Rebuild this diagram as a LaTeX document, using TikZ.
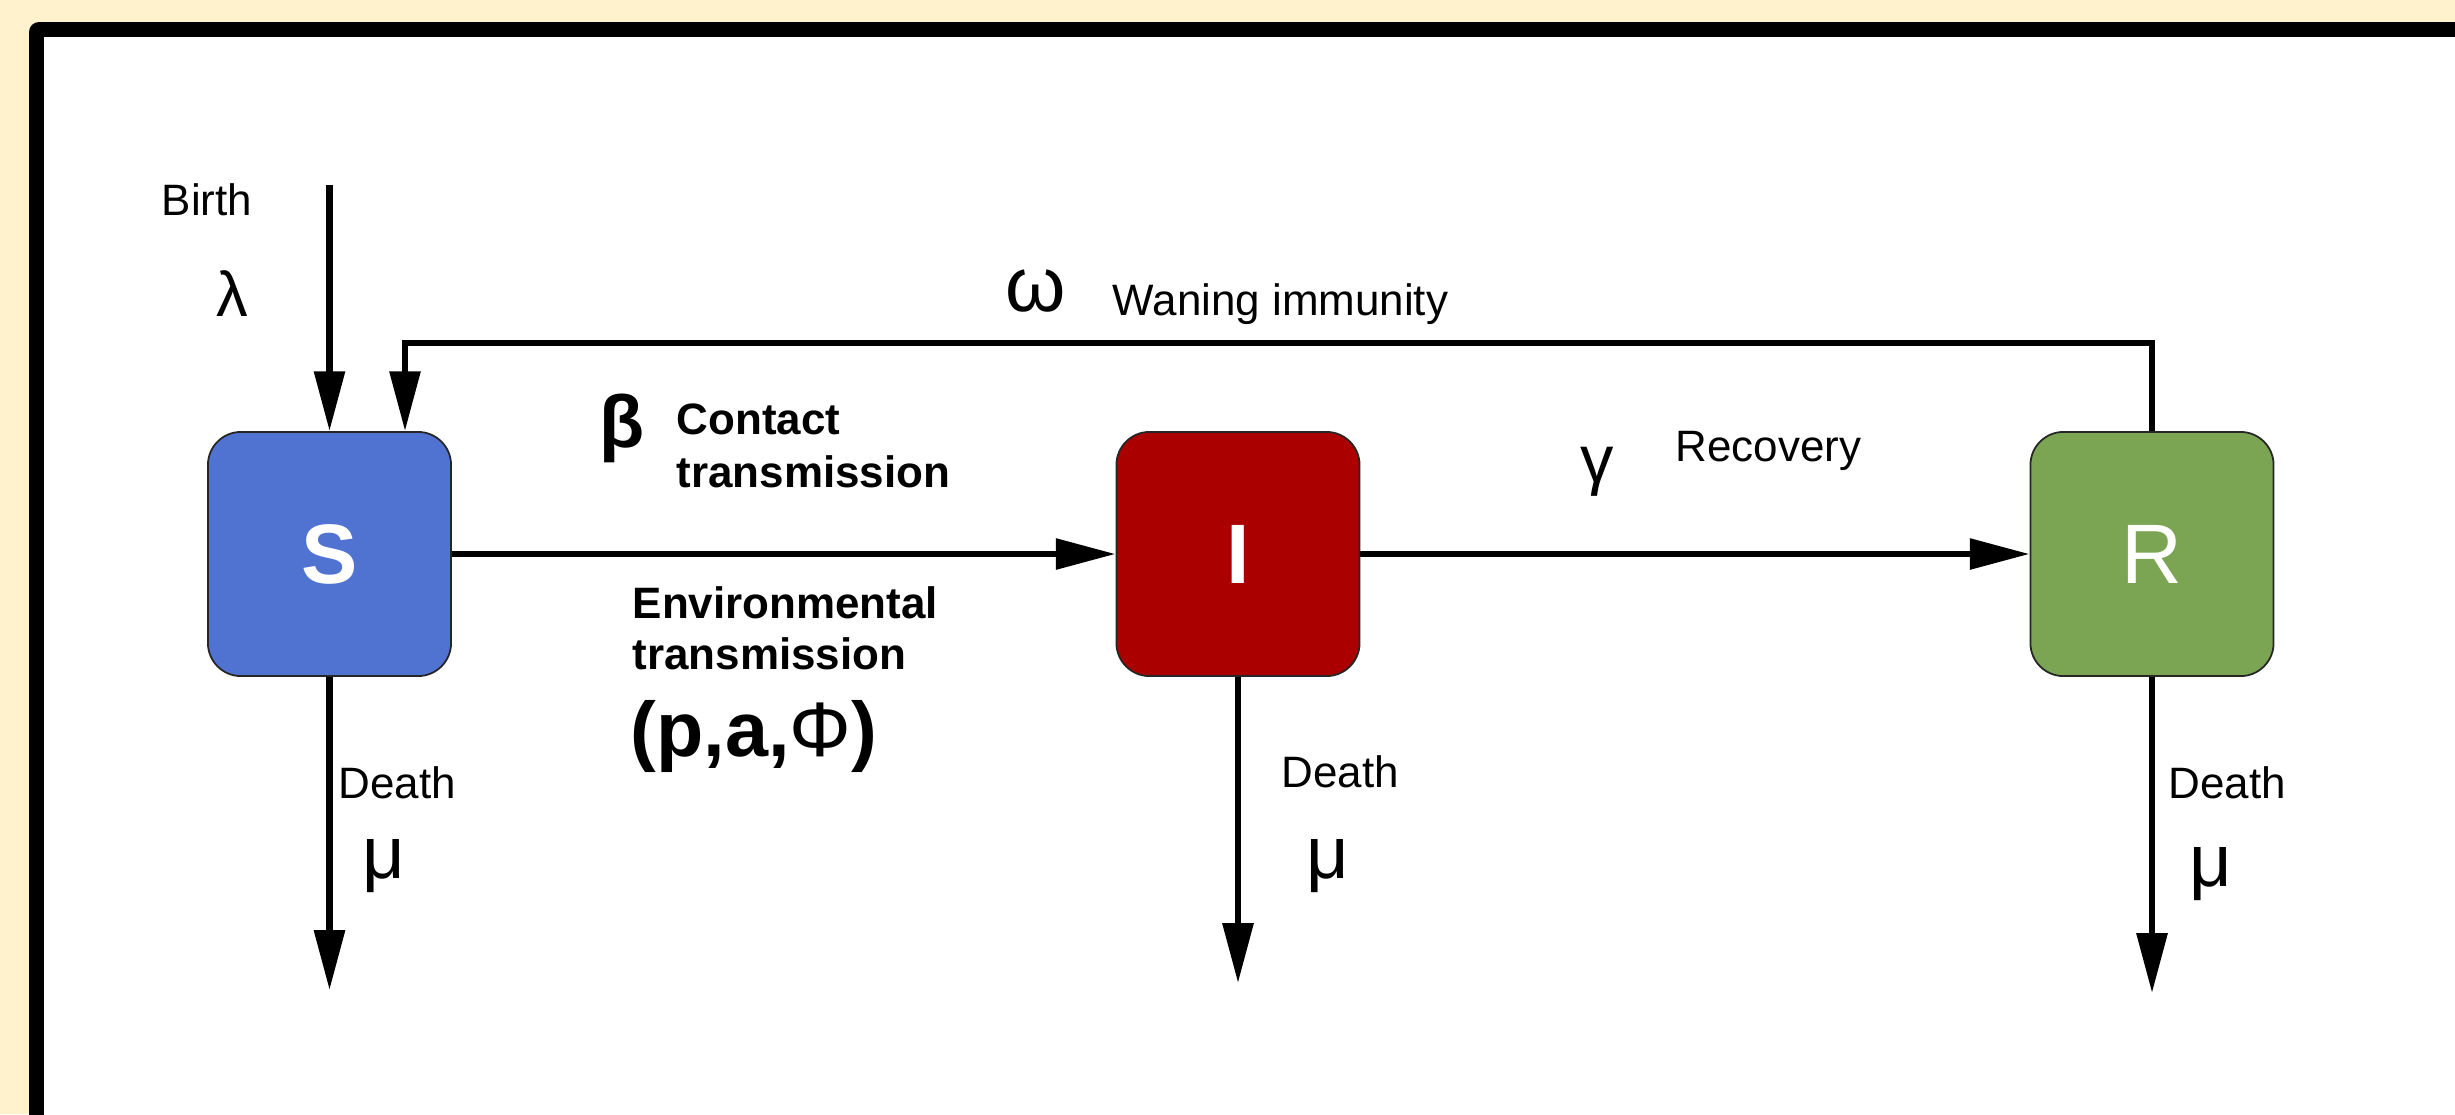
\documentclass[tikz,border=0pt]{standalone}
\usepackage{fontspec}
\setmainfont{Liberation Sans}
\usetikzlibrary{arrows.meta}
\definecolor{bgyellow}{HTML}{FFF2CC}
\definecolor{sblue}{HTML}{5072D1}
\definecolor{ired}{HTML}{AA0000}
\definecolor{rgreen}{HTML}{7BA553}
\begin{document}
\begin{tikzpicture}[x=0.01cm,y=-0.01cm,
  comp/.style={draw=black!85, line width=0.5pt, rounded corners=0.33cm,
    minimum width=2.43cm, minimum height=2.44cm, inner sep=0pt, text=white},
  flow/.style={line width=1.8pt, -{Triangle[length=17pt,width=8.5pt]}},
  lab/.style={inner sep=0pt, font=\fontsize{12.5}{15}\selectfont},
  blab/.style={inner sep=0pt, font=\fontsize{12.5}{15}\selectfont\bfseries, align=left},
  greek/.style={inner sep=0pt, font=\fontsize{#1}{#1}\selectfont},
]
\useasboundingbox (0,0) rectangle (2455,1114);
\fill[bgyellow] (0,0) rectangle (2455,1114);
\begin{scope}
  \clip (0,0) rectangle (2455,1114);
  \fill[black, rounded corners=0.1cm] (29,22) rectangle (2520,1200);
  \fill[white] (44,37) rectangle (2520,1200);
\end{scope}

% compartments
\node[comp, fill=sblue, font=\fontsize{24}{28}\selectfont\bfseries] (S) at (329.5,554) {S};
\node[comp, fill=ired, font=\fontsize{24}{28}\selectfont\bfseries] (I) at (1238,554) {I};
\node[comp, fill=rgreen, font=\fontsize{24}{28}\selectfont] (R) at (2152,554) {R};

% helper coordinates
\coordinate (birth) at (329.5,185);
\coordinate (wl) at (405,343);
\coordinate (dS) at (329.5,990);
\coordinate (dI) at (1238,983);
\coordinate (dR) at (2152,993);

% connectors
\draw[flow] (birth) -- (S.north);
\draw[flow] (R.north) |- (wl) -- (wl |- S.north);
\draw[flow] (S.east) -- (I.west);
\draw[flow] (I.east) -- (R.west);
\draw[flow] (S.south) -- (dS);
\draw[flow] (I.south) -- (dI);
\draw[flow] (R.south) -- (dR);

% labels
\node[lab, anchor=west] (birthlbl) at (161,200) {Birth};
\node[greek=18] (lam) at (232,294) {λ};
\node[greek=22] (om) at (1036,291) {ω};
\node[lab, anchor=west] (wane) at (1112,304) {Waning immunity};
\node[greek=21, font=\fontsize{21}{21}\selectfont\bfseries] (beta) at (622,428) {β};
\node[blab, anchor=west] (contact) at (676,446) {Contact\\transmission};
\node[blab, anchor=west, font=\fontsize{12.5}{14.5}\selectfont\bfseries] (env) at (632,628) {Environmental\\transmission};
\node[inner sep=0pt, anchor=west, font=\fontsize{22}{26}\selectfont\bfseries] (pap) at (630,736) {(p,a,{\mdseries Φ})};
\node[greek=19] (gam) at (1597,472) {γ};
\node[lab, anchor=west] (recov) at (1675,451) {Recovery};

\node[lab, anchor=west] (deathS) at (338,783) {Death};
\node[greek=21] (muS) at (384,866) {μ};
\node[lab, anchor=west] (deathI) at (1281,772) {Death};
\node[greek=21] (muI) at (1328,866) {μ};
\node[lab, anchor=west] (deathR) at (2168,783) {Death};
\node[greek=21] (muR) at (2211,874) {μ};
\end{tikzpicture}
\end{document}
